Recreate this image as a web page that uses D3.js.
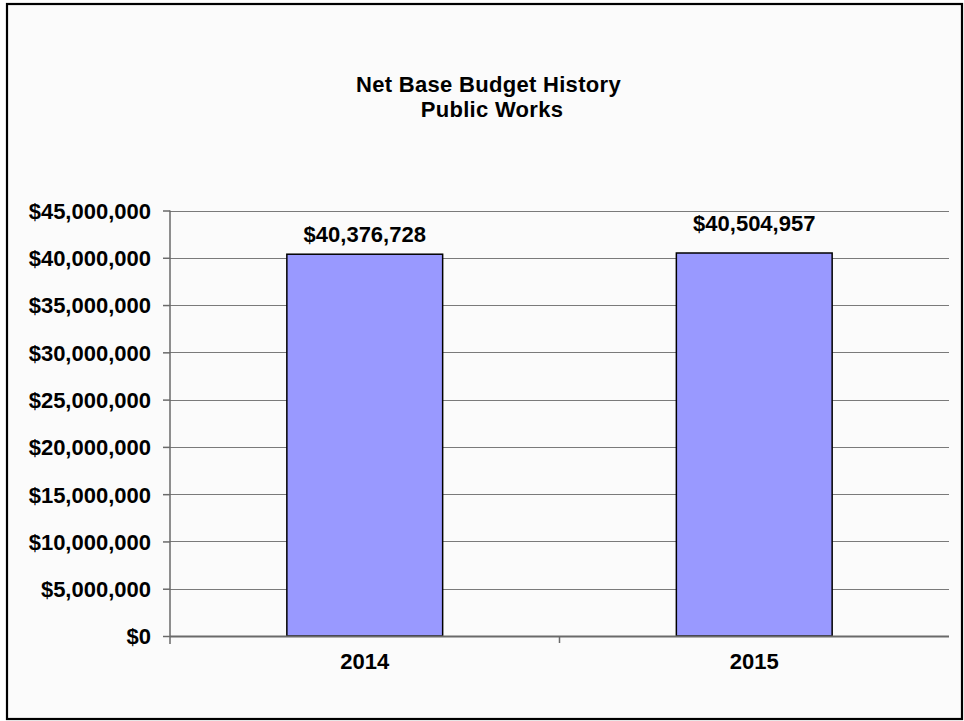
<!DOCTYPE html>
<html>
<head>
<meta charset="utf-8">
<script src="https://cdn.jsdelivr.net/npm/d3@7"></script>
<style>
  html, body { margin: 0; padding: 0; background: #ffffff; }
  svg { display: block; }
  text { font-family: Arial, "Liberation Sans", Helvetica, sans-serif; font-weight: bold; fill: #000; }
</style>
</head>
<body>
<svg id="chart" width="964" height="721"></svg>
<script>
// Net base budget by fiscal year
const years = ["2014", "2015"];
const budget = [40376728, 40504957];
const yTicks = [0, 5000000, 10000000, 15000000, 20000000, 25000000, 30000000, 35000000, 40000000, 45000000];
const titleLines = ["Net Base Budget History", "Public Works"];

const plot = { left: 170, right: 949, top: 210.5, bottom: 636 };
// Per-label vertical nudge for the value labels above the bars
const labelNudge = [0, -10];
const FONT = "Arial, 'Liberation Sans', Helvetica, sans-serif";

const svg = d3.select("#chart");

// Page background and frame
svg.append("rect")
  .attr("x", 7).attr("y", 4).attr("width", 955).attr("height", 715)
  .attr("fill", "#fbfbfb").attr("stroke", "#000").attr("stroke-width", 2.2);

// Title
svg.append("g").selectAll("text")
  .data(titleLines)
  .join("text")
  .attr("x", (d, i) => i === 0 ? 488.5 : 492)
  .attr("y", (d, i) => 92 + i * 25)
  .attr("text-anchor", "middle")
  .style("font-size", "22px")
  .style("letter-spacing", "0.3px")
  .text(d => d);

const x = d3.scaleBand().domain(years).range([plot.left, plot.right]).padding(0);
const y = d3.scaleLinear().domain([0, 45000000]).range([plot.bottom, plot.top]);

// Horizontal gridlines
svg.append("g").selectAll("line")
  .data(yTicks.filter(t => t > 0))
  .join("line")
  .attr("x1", plot.left).attr("x2", plot.right)
  .attr("y1", d => Math.round(y(d)) + 0.5).attr("y2", d => Math.round(y(d)) + 0.5)
  .attr("stroke", "#7a7a7a").attr("stroke-width", 1.2);

// Bars
const barW = x.bandwidth() * 0.4;
svg.append("g").selectAll("rect")
  .data(years)
  .join("rect")
  .attr("x", d => x(d) + (x.bandwidth() - barW) / 2)
  .attr("y", (d, i) => y(budget[i]))
  .attr("width", barW)
  .attr("height", (d, i) => y(0) - y(budget[i]))
  .attr("fill", "#9999ff")
  .attr("stroke", "#000").attr("stroke-width", 1.5);

// Y axis
const yAxis = d3.axisLeft(y)
  .tickValues(yTicks)
  .tickSize(7)
  .tickPadding(12)
  .tickFormat(d => "$" + d3.format(",")(d));
const yg = svg.append("g").attr("transform", `translate(${plot.left},0)`).call(yAxis);
yg.select(".domain").attr("d", `M0,${plot.top}V${plot.bottom + 8}`).attr("stroke", "#6a6a6a").attr("stroke-width", 1.5);
yg.selectAll(".tick line").attr("stroke", "#6a6a6a").attr("stroke-width", 1.5);
yg.selectAll(".tick text")
  .style("font-size", "22px").style("font-family", FONT)
  .style("font-weight", "bold")
  .attr("fill", "#000").attr("dy", "0.36em");

// X axis
const xAxis = d3.axisBottom(x).tickSize(0).tickPadding(0);
const xg = svg.append("g").attr("transform", `translate(0,${plot.bottom})`).call(xAxis);
xg.select(".domain").attr("d", `M${plot.left},0.5H${plot.right}`).attr("stroke", "#6a6a6a").attr("stroke-width", 1.8);
xg.selectAll(".tick text")
  .attr("y", 33).attr("dy", 0)
  .style("font-size", "22px").style("font-family", FONT)
  .style("font-weight", "bold")
  .attr("fill", "#000");
// Category separator ticks below the axis
xg.append("g").selectAll("line")
  .data(years.slice(1))
  .join("line")
  .attr("x1", d => x(d)).attr("x2", d => x(d))
  .attr("y1", 0).attr("y2", 7)
  .attr("stroke", "#6a6a6a").attr("stroke-width", 1.5);

// Value labels
svg.append("g").selectAll("text")
  .data(years)
  .join("text")
  .attr("x", d => x(d) + x.bandwidth() / 2)
  .attr("y", (d, i) => y(budget[i]) - 12 + labelNudge[i])
  .attr("text-anchor", "middle")
  .style("font-size", "22px")
  .text((d, i) => "$" + d3.format(",")(budget[i]));
</script>
</body>
</html>
